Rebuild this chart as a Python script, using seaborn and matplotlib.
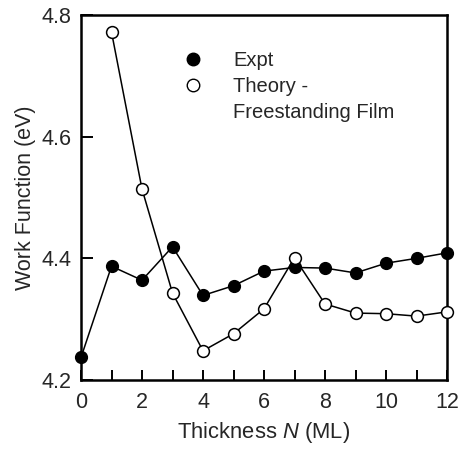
import matplotlib
matplotlib.use("Agg")
import matplotlib.pyplot as plt
from matplotlib.lines import Line2D
from matplotlib.ticker import MultipleLocator
import pandas as pd
import seaborn as sns

# thickness in monolayers
thickness = [0, 1, 2, 3, 4, 5, 6, 7, 8, 9, 10, 11, 12]
expt = [4.237, 4.387, 4.364, 4.419, 4.339, 4.355, 4.379, 4.385, 4.384,
        4.376, 4.392, 4.400, 4.409]
theory_n = [1, 2, 3, 4, 5, 6, 7, 8, 9, 10, 11, 12]
theory = [4.772, 4.514, 4.343, 4.248, 4.276, 4.317, 4.401, 4.325, 4.310,
          4.309, 4.305, 4.312]

sns.set_style("ticks")
plt.rcParams['font.family'] = ['Liberation Sans', 'DejaVu Sans']
plt.rcParams['mathtext.fontset'] = 'custom'
plt.rcParams['mathtext.it'] = 'Liberation Sans:italic'

df_expt = pd.DataFrame({"N": thickness, "W": expt})
df_theory = pd.DataFrame({"N": theory_n, "W": theory})

fig, ax = plt.subplots(figsize=(4.59, 4.53), dpi=100)
fig.subplots_adjust(left=81 / 459, right=447 / 459,
                    bottom=1 - 380 / 453, top=1 - 15 / 453)

sns.lineplot(data=df_expt, x="N", y="W", ax=ax, color="black", lw=1.1,
             marker="o", markersize=8.5, markerfacecolor="black",
             markeredgecolor="black", markeredgewidth=1.0, zorder=3,
             clip_on=False)
sns.lineplot(data=df_theory, x="N", y="W", ax=ax, color="black", lw=1.1,
             marker="o", markersize=8.5, markerfacecolor="white",
             markeredgecolor="black", markeredgewidth=1.1, zorder=4,
             clip_on=False)

ax.set_xlim(0, 12)
ax.set_ylim(4.2, 4.8)
ax.xaxis.set_major_locator(MultipleLocator(2))
ax.xaxis.set_minor_locator(MultipleLocator(1))
ax.yaxis.set_major_locator(MultipleLocator(0.2))
ax.tick_params(axis="both", which="both", direction="in", width=1.4,
               labelsize=15.5, color="black")
ax.tick_params(axis="x", which="both", length=7, pad=9)
ax.tick_params(axis="y", which="both", length=8.5, pad=7)
for sp in ax.spines.values():
    sp.set_linewidth(1.8)
    sp.set_color("black")

ax.set_xlabel("Thickness $N$ (ML)", fontsize=15.8, labelpad=5)
ax.set_ylabel("Work Function (eV)", fontsize=15.5, labelpad=4)

handles = [
    Line2D([], [], ls="none", marker="o", markersize=9, mfc="black", mec="black"),
    Line2D([], [], ls="none", marker="o", markersize=9, mfc="white", mec="black"),
    Line2D([], [], ls="none"),
]
labels = ["Expt", "Theory -", "Freestanding Film"]
ax.legend(handles, labels, loc="upper left", bbox_to_anchor=(0.279, 0.902),
          frameon=False, fontsize=14.5, labelspacing=0.35,
          handlelength=1.0, handletextpad=1.5, borderpad=0,
          borderaxespad=0)

fig.savefig("out.png", dpi=100)
